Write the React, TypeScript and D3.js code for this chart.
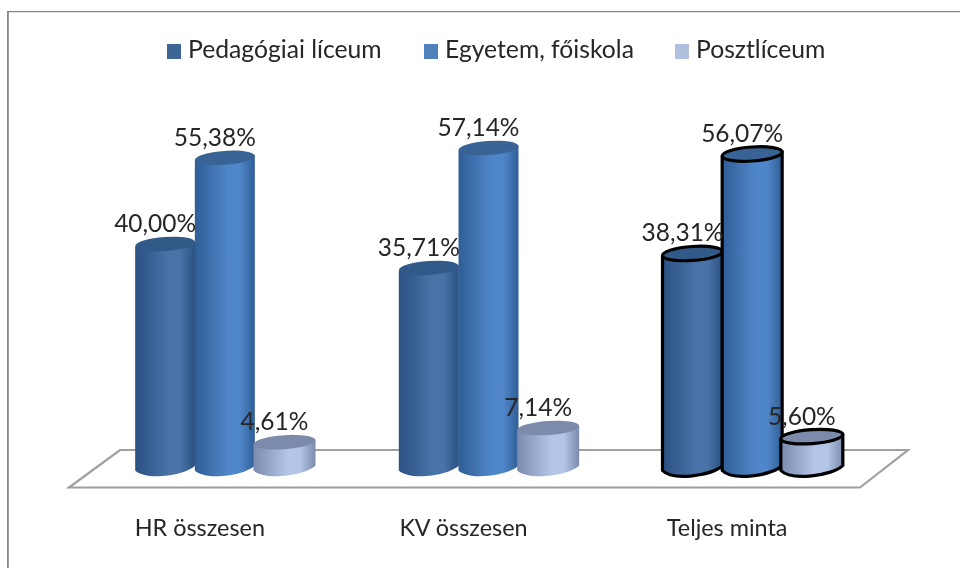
import React from 'react';
import * as d3 from 'd3';

const categories = ['HR összesen', 'KV összesen', 'Teljes minta'];
const seriesNames = ['Pedagógiai líceum', 'Egyetem, főiskola', 'Posztlíceum'];
const pedagogiai = [40.0, 35.71, 38.31];
const egyetem = [55.38, 57.14, 56.07];
const poszt = [4.61, 7.14, 5.6];
const seriesValues = [pedagogiai, egyetem, poszt];

// edge, centre, top of each cylinder
const edgeColors = ['#2b5183', '#2f5e96', '#7a8bad'];
const midColors = ['#4872a6', '#5086c9', '#b4c6e7'];
const topColors = ['#335a88', '#386494', '#7b8bab'];
const legendColors = ['#3c6595', '#4f81bd', '#b0c0dc'];

const fontFamily = 'Lato, "Open Sans", sans-serif';
const textColor = '#262626';

const width = 960;
const height = 568;
const baseY = 468;

// scales
const x0 = d3.scaleBand().domain(categories).range([93, 884]);
const x1 = d3.scaleBand().domain(seriesNames).range([-89.5, 89.5]);
const y = d3.scaleLinear().domain([0, 60]).range([baseY, baseY - 336]);

const fmt = (v: number) => v.toFixed(2).replace('.', ',') + '%';

// cylinder outline: side wall with rounded tilted bottom, top cap on its own
function Cylinder({ cx, value, s, outlined }: { cx: number; value: number; s: number; outlined: boolean }) {
  const w = s === 2 ? 31 : 30;
  const ry = 8;
  const tilt = 2.5;
  const top = y(value);
  const body = d3.path();
  body.moveTo(cx - w, top + tilt);
  body.lineTo(cx - w, baseY + tilt);
  body.bezierCurveTo(cx - w + 10, baseY + tilt + ry * 1.3, cx + w - 10, baseY - tilt + ry * 1.3, cx + w, baseY - tilt);
  body.lineTo(cx + w, top - tilt);
  body.closePath();
  const stroke = outlined ? '#000' : 'none';
  return (
    <g>
      <path d={body.toString()} fill={`url(#cyl${s})`} stroke={stroke} strokeWidth={3.2} strokeLinejoin="round" />
      <ellipse
        cx={cx}
        cy={top}
        rx={w}
        ry={ry - 1}
        transform={`rotate(-4 ${cx} ${top})`}
        fill={topColors[s]}
        stroke={stroke}
        strokeWidth={3.2}
      />
    </g>
  );
}

export default function App() {
  const legendX = [188, 445, 696];
  return (
    <svg
      width={width}
      height={height}
      style={{ position: 'absolute', left: 0, top: 0, background: '#fff' }}
    >
      <defs>
        {seriesNames.map((_, s) => (
          <linearGradient key={s} id={`cyl${s}`} x1="0" x2="1" y1="0" y2="0">
            <stop offset="0" stopColor={edgeColors[s]} />
            <stop offset="0.55" stopColor={midColors[s]} />
            <stop offset="0.75" stopColor={midColors[s]} />
            <stop offset="1" stopColor={edgeColors[s]} />
          </linearGradient>
        ))}
        <filter id="soft" x="0" y="0" width="100%" height="100%">
          <feGaussianBlur stdDeviation="0.45" />
        </filter>
      </defs>

      <g filter="url(#soft)">
        {/* chart frame, open on the right */}
        <path d="M7.5,568V11H960" fill="none" stroke="#868686" strokeWidth={2.6} />

        {/* floor */}
        <path d="M69,487.5L120,450H908L860,487.5Z" fill="#fff" stroke="#a0a0a0" strokeWidth={2.2} />

        {/* legend */}
        {seriesNames.map((name, s) => (
          <g key={name}>
            <rect x={legendX[s] - 21} y={44} width={14} height={15} fill={legendColors[s]} />
            <text x={legendX[s]} y={58} fontFamily={fontFamily} fontSize={24.7} fill={textColor}>{name}</text>
          </g>
        ))}

        {/* cylinders */}
        {categories.map((c, i) => (
          <g key={c}>
            {seriesNames.map((name, s) => (
              <Cylinder
                key={name}
                cx={x0(c)! + x0.bandwidth() / 2 + x1(name)! + x1.bandwidth() / 2}
                value={seriesValues[s][i]}
                s={s}
                outlined={i === 2}
              />
            ))}
          </g>
        ))}

        {/* data labels */}
        {categories.map((c, i) =>
          seriesNames.map((name, s) => (
            <text
              key={name}
              x={x0(c)! + x0.bandwidth() / 2 + x1(name)! + x1.bandwidth() / 2 - 10}
              y={y(seriesValues[s][i]) - 12}
              textAnchor="middle"
              fontFamily={fontFamily}
              fontSize={24.5}
              fill={textColor}
            >
              {fmt(seriesValues[s][i])}
            </text>
          ))
        )}

        {/* category labels */}
        {categories.map((c) => (
          <text
            key={c}
            x={x0(c)! + x0.bandwidth() / 2 - 25}
            y={536}
            textAnchor="middle"
            fontFamily={fontFamily}
            fontSize={23.4}
            fill={textColor}
          >
            {c}
          </text>
        ))}
      </g>
    </svg>
  );
}
